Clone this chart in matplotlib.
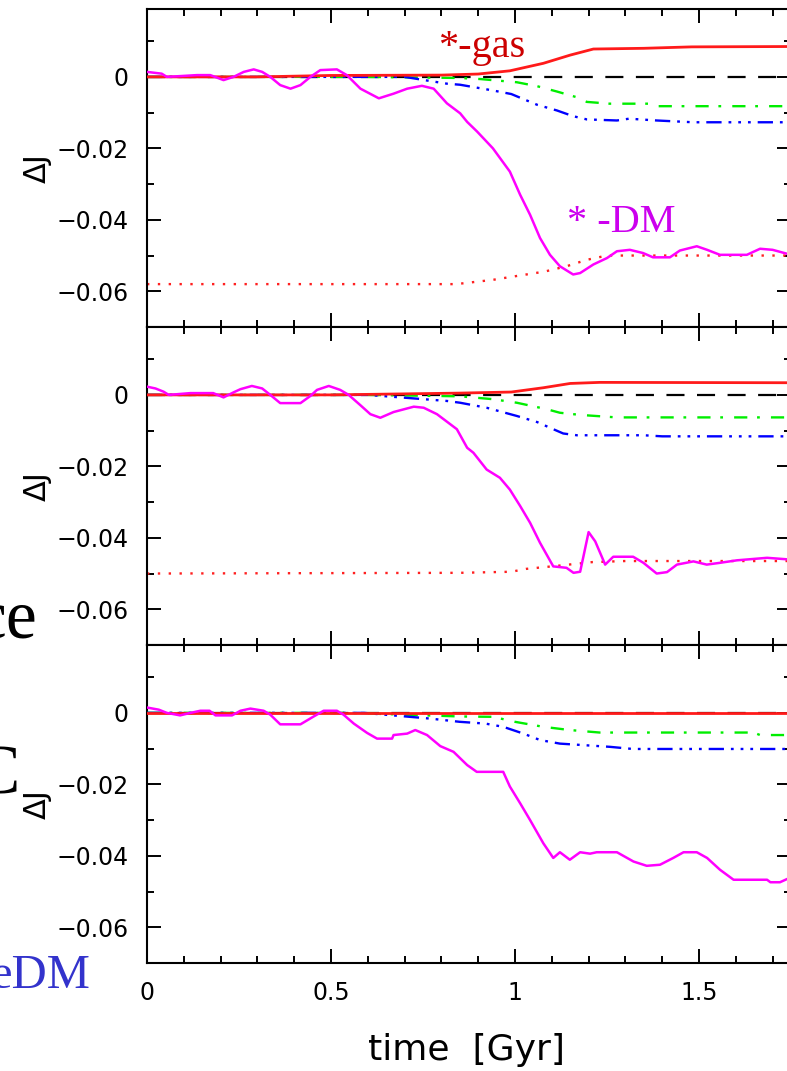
import matplotlib
matplotlib.use("Agg")
import matplotlib.pyplot as plt
from matplotlib.ticker import MultipleLocator, FixedLocator, FixedFormatter

plt.rcParams['lines.scale_dashes'] = False
plt.rcParams['font.family'] = ['DejaVu Sans']

# ---------------- data ----------------
xlim = (0.0, 1.75)
ylim = (-0.070, 0.019)
ytick_vals = [-0.06, -0.04, -0.02, 0.0]
ytick_labels = ['\u22120.06', '\u22120.04', '\u22120.02', '0']
xtick_vals = [0.0, 0.5, 1.0, 1.5]
xtick_labels = ['0', '0.5', '1', '1.5']

# panel 1
p1_gas_t = [0, 0.3, 0.5, 0.8, 0.9, 0.986, 1.077, 1.15, 1.213, 1.35, 1.48, 1.75]
p1_gas_v = [0, 0, 0.0004, 0.0005, 0.0008, 0.0017, 0.0038, 0.0061, 0.0078, 0.0080, 0.0084, 0.0085]
p1_dot_t = [0, 0.84, 0.94, 1.0, 1.08, 1.14, 1.195, 1.25, 1.75]
p1_dot_v = [-0.0580, -0.0580, -0.0568, -0.0558, -0.0545, -0.0530, -0.0512, -0.0500, -0.0500]
p1_grn_t = [0, 0.6, 0.85, 0.905, 1.005, 1.06, 1.114, 1.168, 1.195, 1.257, 1.366, 1.385, 1.75]
p1_grn_v = [0, 0, -0.0003, -0.0006, -0.0015, -0.0026, -0.0041, -0.0057, -0.0070, -0.0075, -0.0075, -0.0082, -0.0082]
p1_blu_t = [0, 0.7, 0.76, 0.815, 0.851, 0.94, 0.99, 1.06, 1.114, 1.158, 1.195, 1.277, 1.31, 1.385, 1.484, 1.75]
p1_blu_v = [0, 0, -0.0010, -0.0019, -0.0022, -0.0038, -0.0048, -0.0078, -0.0094, -0.0110, -0.0119, -0.0122, -0.0117, -0.0122, -0.0127, -0.0127]
p1_mag_t = [0, 0.04, 0.054, 0.136, 0.172, 0.208, 0.235, 0.263, 0.29, 0.313, 0.335, 0.362, 0.39, 0.417,
            0.444, 0.471, 0.516, 0.543, 0.58, 0.63, 0.67, 0.707, 0.747, 0.779, 0.815, 0.851, 0.87, 0.897,
            0.94, 0.986, 1.014, 1.041, 1.068, 1.095, 1.122, 1.158, 1.177, 1.213, 1.25, 1.277, 1.312, 1.348,
            1.375, 1.421, 1.448, 1.494, 1.522, 1.557, 1.63, 1.666, 1.70, 1.75]
p1_mag_v = [0.0014, 0.0009, 0, 0.0005, 0.0005, -0.0009, 0, 0.0014, 0.0021, 0.0014, 0, -0.0023, -0.0033,
            -0.0023, 0, 0.0019, 0.0021, 0.0005, -0.0033, -0.0060, -0.0047, -0.0033, -0.0025, -0.0033,
            -0.0074, -0.0102, -0.0126, -0.0153, -0.0200, -0.0265, -0.0330, -0.0386, -0.0451, -0.0498,
            -0.0530, -0.0553, -0.0549, -0.0525, -0.0507, -0.0488, -0.0484, -0.0493, -0.0505, -0.0505,
            -0.0486, -0.0474, -0.0484, -0.0498, -0.0498, -0.0481, -0.0484, -0.0498]

# panel 2
p2_gas_t = [0, 0.5, 0.85, 0.99, 1.077, 1.15, 1.23, 1.75]
p2_gas_v = [0, 0, 0.0005, 0.0008, 0.0020, 0.0032, 0.0035, 0.0034]
p2_dot_t = [0, 0.85, 0.99, 1.03, 1.1, 1.21, 1.3, 1.75]
p2_dot_v = [-0.0500, -0.0498, -0.0495, -0.0487, -0.0480, -0.0468, -0.0465, -0.0465]
p2_grn_t = [0, 0.6, 0.85, 0.94, 1.005, 1.086, 1.122, 1.177, 1.276, 1.75]
p2_grn_v = [0, 0, -0.0004, -0.0012, -0.0022, -0.0040, -0.0050, -0.0056, -0.0063, -0.0063]
p2_blu_t = [0, 0.6, 0.815, 0.851, 0.923, 1.005, 1.06, 1.104, 1.131, 1.168, 1.35, 1.4, 1.75]
p2_blu_v = [0, 0, -0.0017, -0.0022, -0.0036, -0.0059, -0.0076, -0.0096, -0.0108, -0.0113, -0.0113, -0.0116, -0.0116]
p2_mag_t = [0, 0.023, 0.045, 0.059, 0.118, 0.18, 0.208, 0.235, 0.254, 0.285, 0.313, 0.335, 0.362, 0.417,
            0.444, 0.462, 0.494, 0.525, 0.548, 0.58, 0.607, 0.634, 0.67, 0.725, 0.752, 0.788, 0.842, 0.87,
            0.887, 0.923, 0.959, 0.986, 1.014, 1.041, 1.068, 1.104, 1.14, 1.159, 1.177, 1.186, 1.2, 1.218,
            1.245, 1.267, 1.321, 1.349, 1.385, 1.413, 1.44, 1.485, 1.521, 1.557, 1.603, 1.685, 1.75]
p2_mag_v = [0.0023, 0.0018, 0.0009, 0, 0.0005, 0.0005, -0.0007, 0.0007, 0.0016, 0.0025, 0.0018, 0,
            -0.0023, -0.0023, -0.0003, 0.0014, 0.0025, 0.0014, 0, -0.0029, -0.0054, -0.0064, -0.0048,
            -0.0033, -0.0036, -0.0054, -0.0096, -0.0148, -0.0162, -0.0209, -0.0232, -0.0265, -0.0311,
            -0.0358, -0.0414, -0.0480, -0.0484, -0.0498, -0.0495, -0.0452, -0.0384, -0.0410, -0.0475,
            -0.0453, -0.0453, -0.0470, -0.0500, -0.0496, -0.0475, -0.0466, -0.0475, -0.0470, -0.0463,
            -0.0456, -0.0461]

# panel 3
p3_gas_t = [0, 1.75]
p3_gas_v = [0, 0]
p3_grn_t = [0, 0.55, 0.85, 0.94, 1.0, 1.077, 1.149, 1.23, 1.648, 1.666, 1.75]
p3_grn_v = [0, 0, -0.0010, -0.0011, -0.0025, -0.0039, -0.0048, -0.0055, -0.0055, -0.0062, -0.0062]
p3_blu_t = [0, 0.59, 0.77, 0.85, 0.92, 0.968, 1.023, 1.068, 1.122, 1.258, 1.32, 1.75]
p3_blu_v = [0, 0, -0.0016, -0.0025, -0.0030, -0.0039, -0.0058, -0.0076, -0.0086, -0.0095, -0.0101, -0.0101]
p3_mag_t = [0, 0.032, 0.054, 0.09, 0.118, 0.145, 0.17, 0.186, 0.231, 0.254, 0.281, 0.317, 0.335, 0.362,
            0.417, 0.453, 0.48, 0.516, 0.534, 0.562, 0.598, 0.625, 0.666, 0.67, 0.707, 0.729, 0.761, 0.797,
            0.833, 0.87, 0.896, 0.968, 0.986, 1.014, 1.041, 1.077, 1.104, 1.122, 1.149, 1.177, 1.204,
            1.222, 1.277, 1.322, 1.358, 1.394, 1.43, 1.458, 1.494, 1.522, 1.557, 1.594, 1.685, 1.694,
            1.72, 1.75]
p3_mag_v = [0.0015, 0.0009, 0, -0.0007, 0, 0.0006, 0.0006, -0.0007, -0.0007, 0.0006, 0.0012, 0.0006,
            -0.0005, -0.0032, -0.0032, -0.0010, 0.0006, 0.0006, -0.0005, -0.0030, -0.0056, -0.0072,
            -0.0072, -0.0062, -0.0058, -0.0048, -0.0062, -0.0093, -0.0109, -0.0146, -0.0165, -0.0165,
            -0.0206, -0.0253, -0.0300, -0.0365, -0.0406, -0.0390, -0.0411, -0.0390, -0.0394, -0.0390,
            -0.0390, -0.0416, -0.0428, -0.0425, -0.0406, -0.0390, -0.0390, -0.0406, -0.0439, -0.0467,
            -0.0467, -0.0474, -0.0474, -0.0460]

panels = [
    dict(gas=(p1_gas_t, p1_gas_v), dot=(p1_dot_t, p1_dot_v), grn=(p1_grn_t, p1_grn_v),
         blu=(p1_blu_t, p1_blu_v), mag=(p1_mag_t, p1_mag_v)),
    dict(gas=(p2_gas_t, p2_gas_v), dot=(p2_dot_t, p2_dot_v), grn=(p2_grn_t, p2_grn_v),
         blu=(p2_blu_t, p2_blu_v), mag=(p2_mag_t, p2_mag_v)),
    dict(gas=(p3_gas_t, p3_gas_v), dot=None, grn=(p3_grn_t, p3_grn_v),
         blu=(p3_blu_t, p3_blu_v), mag=(p3_mag_t, p3_mag_v)),
]

# ---------------- figure ----------------
W, H = 787, 1071
fig = plt.figure(figsize=(W / 100, H / 100), dpi=100)

left_px, right_px = 147, 791
tops_px = [9, 327, 645]
ph = 318

axes = []
for i, p in enumerate(panels):
    top = tops_px[i]
    ax = fig.add_axes([left_px / W, 1 - (top + ph) / H, (right_px - left_px) / W, ph / H])
    axes.append(ax)
    ax.set_xlim(*xlim)
    ax.set_ylim(*ylim)

    ax.axhline(0, color='black', lw=1.6, linestyle=(0, (13, 9)), zorder=1)
    if p['dot'] is not None:
        ax.plot(*p['dot'], color='#ff2020', lw=1.7, linestyle=(0, (1.7, 6.1)), zorder=2)
    ax.plot(*p['grn'], color='#00ee00', lw=1.7, linestyle=(0, (9.5, 7, 2, 8)), zorder=3)
    ax.plot(*p['blu'], color='#0000ff', lw=1.7,
            linestyle=(0, (11, 5, 2, 5, 2, 5, 2, 5)), zorder=3)
    ax.plot(*p['gas'], color='#ff1a1a', lw=2.0, zorder=4)
    ax.plot(*p['mag'], color='#ff00ff', lw=1.8, zorder=5)

    ax.xaxis.set_major_locator(FixedLocator(xtick_vals))
    ax.xaxis.set_minor_locator(MultipleLocator(0.1))
    ax.yaxis.set_major_locator(FixedLocator(ytick_vals))
    ax.yaxis.set_major_formatter(FixedFormatter(ytick_labels))
    ax.yaxis.set_minor_locator(MultipleLocator(0.01))
    ax.tick_params(which='both', direction='in', top=True, right=True, width=1.4, color='black')
    ax.tick_params(which='major', length=10, labelsize=17, pad=13)
    ax.tick_params(which='minor', length=5)
    for s in ax.spines.values():
        s.set_linewidth(1.5)

    if i < 2:
        ax.tick_params(axis='x', labelbottom=False)
    else:
        ax.xaxis.set_major_formatter(FixedFormatter(xtick_labels))

    ax.text(-0.171, 0.5, '\u0394J', transform=ax.transAxes, rotation=90,
            ha='center', va='center', fontsize=22)

# annotations in the top panel
axes[0].text(0.791, 0.0057, '*-gas', color='#cc0000', fontsize=29,
             family='Liberation Serif', ha='left', va='baseline')
axes[0].text(1.141, -0.0434, '* -DM', color='#cc00ee', fontsize=29,
             family='Liberation Serif', ha='left', va='baseline')

# x label
fig.text(467 / W, 1 - 1050 / H, 'time  [Gyr]', fontsize=26, ha='center', va='center')

# slide text at the left edge (cut off by the image border, as in the original)
fig.text(37 / W, 1 - 637 / H, 'ce', fontsize=50, family='Liberation Serif',
         ha='right', va='baseline', color='black')
fig.text(20 / W, 1 - 793 / H, 'C', fontsize=50, family='Liberation Serif',
         ha='right', va='baseline', color='black')
fig.text(90 / W, 1 - 988 / H, 'eDM', fontsize=35, family='Liberation Serif',
         ha='right', va='baseline', color='#3333cc')

fig.savefig('out.png', dpi=100)
